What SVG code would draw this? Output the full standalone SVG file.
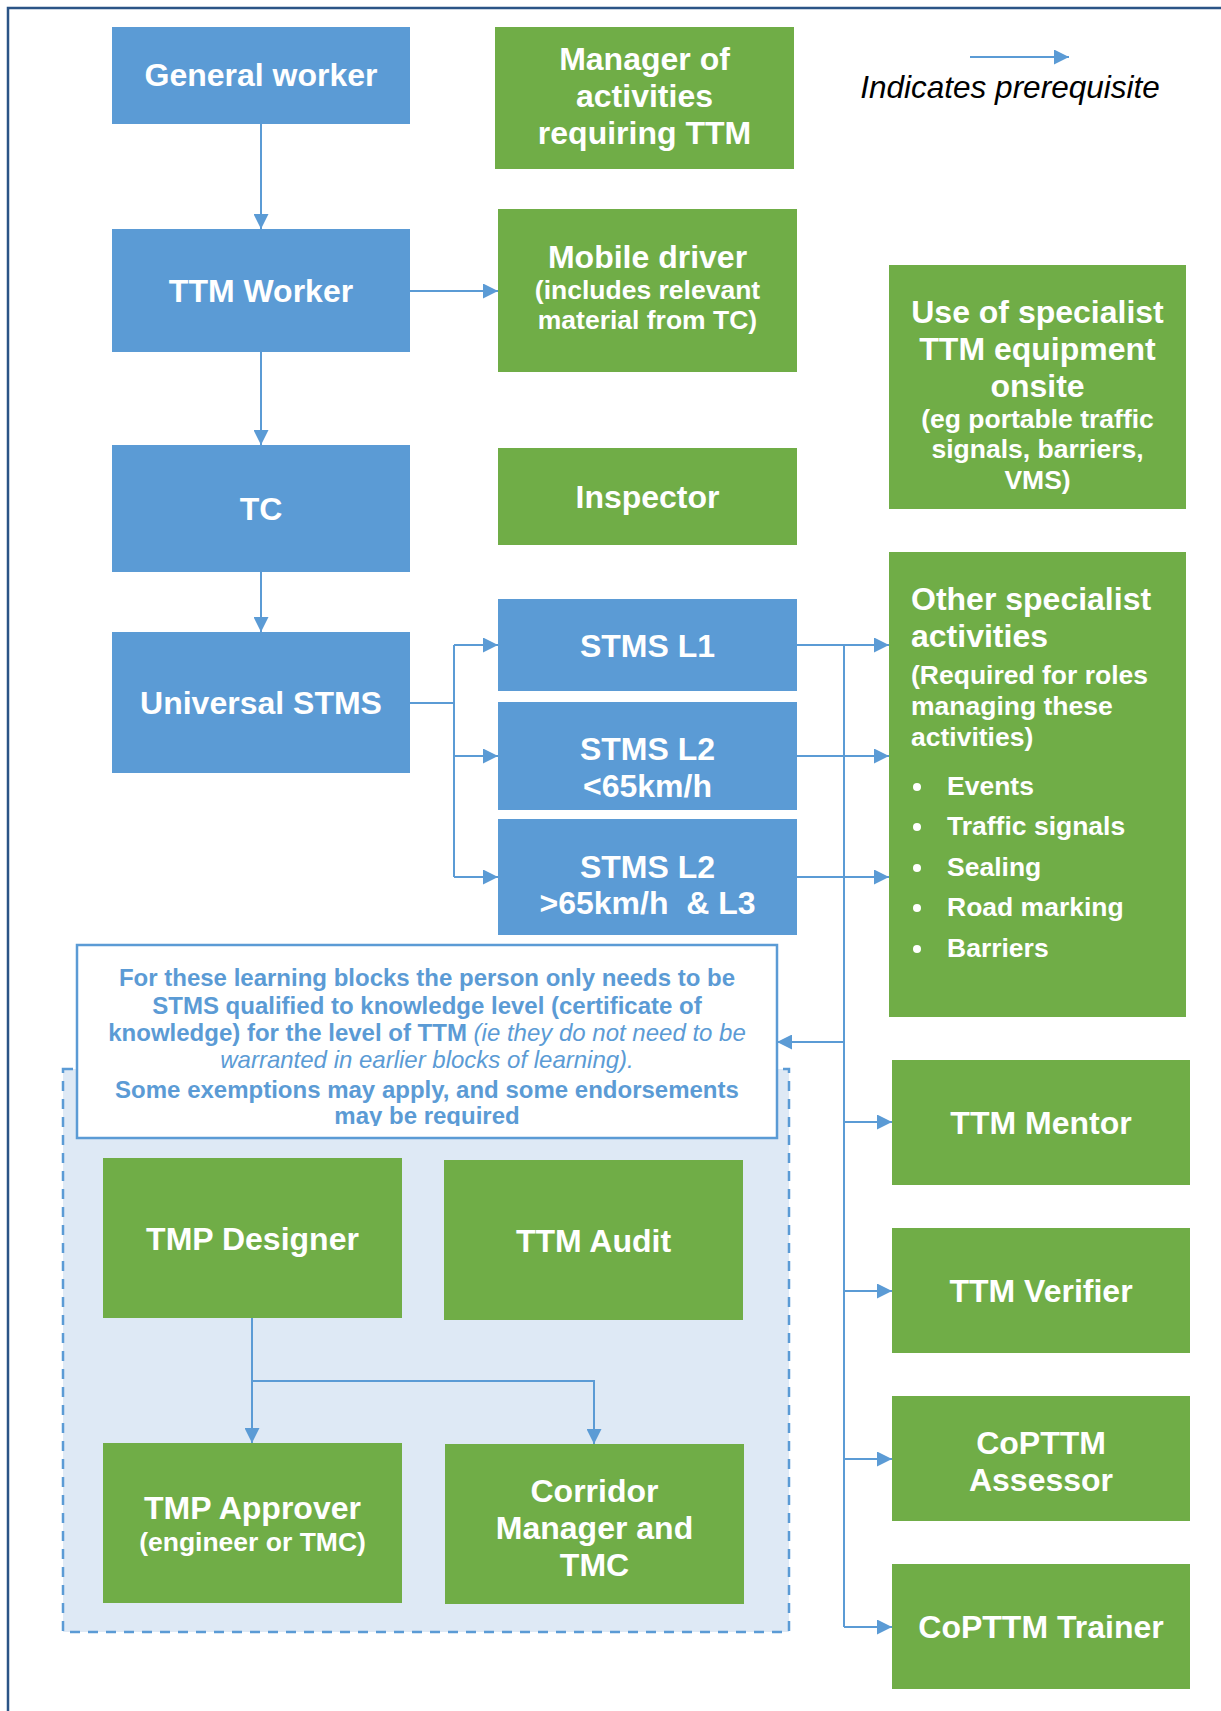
<svg xmlns="http://www.w3.org/2000/svg" width="1221" height="1711" viewBox="0 0 1221 1711">
<style>
.blue{fill:#5B9BD5;}
.green{fill:#70AD47;}
.t{font-family:"Liberation Sans",Arial,sans-serif;font-weight:bold;fill:#fff;text-anchor:middle;}
.b{font-size:32px;}
.s{font-size:26.5px;}
.l{text-anchor:start;}
.c{fill:none;stroke:#5B9BD5;stroke-width:2;}
.note{font-family:"Liberation Sans",Arial,sans-serif;font-size:24px;font-weight:bold;fill:#5B9BD5;text-anchor:middle;}
.it{font-style:italic;font-weight:normal;}
</style>
<defs>
<marker id="ah" markerUnits="userSpaceOnUse" markerWidth="15" markerHeight="15" refX="15" refY="7.5" orient="auto">
<path d="M0,0 L15,7.5 L0,15 z" fill="#5B9BD5"/>
</marker>
<clipPath id="noteclip"><rect x="77" y="945" width="700" height="181"/></clipPath>
</defs>
<rect width="1221" height="1711" fill="#fff"/>
<path d="M8,1711 V8 H1221" fill="none" stroke="#2B5486" stroke-width="2.5"/>

<g id="region">
<rect x="63" y="1069" width="726" height="563" fill="#DEE9F5" stroke="#5B9BD5" stroke-width="2.5" stroke-dasharray="10,8"/>
</g>

<g id="legend">
<text x="1010" y="98" style="font-family:'Liberation Sans',Arial,sans-serif;font-size:31.5px;font-style:italic;fill:#000;text-anchor:middle">Indicates prerequisite</text>
</g>

<g id="general-worker"><rect class="blue" x="112" y="27" width="298" height="97"/><text class="t b" x="261" y="86">General worker</text></g>
<g id="ttm-worker"><rect class="blue" x="112" y="229" width="298" height="123"/><text class="t b" x="261" y="302">TTM Worker</text></g>
<g id="tc"><rect class="blue" x="112" y="445" width="298" height="127"/><text class="t b" x="261" y="520">TC</text></g>
<g id="universal-stms"><rect class="blue" x="112" y="632" width="298" height="141"/><text class="t b" x="261" y="714">Universal STMS</text></g>

<g id="manager"><rect class="green" x="495" y="27" width="299" height="142"/><text class="t b" x="644.5" y="70">Manager of</text><text class="t b" x="644.5" y="107">activities</text><text class="t b" x="644.5" y="144">requiring TTM</text></g>
<g id="mobile-driver"><rect class="green" x="498" y="209" width="299" height="163"/><text class="t b" x="647.5" y="268">Mobile driver</text><text class="t s" x="647.5" y="299">(includes relevant</text><text class="t s" x="647.5" y="329">material from TC)</text></g>
<g id="inspector"><rect class="green" x="498" y="448" width="299" height="97"/><text class="t b" x="647.5" y="508">Inspector</text></g>

<g id="stms-l1"><rect class="blue" x="498" y="599" width="299" height="92"/><text class="t b" x="647.5" y="657">STMS L1</text></g>
<g id="stms-l2-low"><rect class="blue" x="498" y="702" width="299" height="108"/><text class="t b" x="647.5" y="760">STMS L2</text><text class="t b" x="647.5" y="797">&lt;65km/h</text></g>
<g id="stms-l2-high"><rect class="blue" x="498" y="819" width="299" height="116"/><text class="t b" x="647.5" y="878">STMS L2</text><text class="t b" x="647.5" y="914" style="white-space:pre">&gt;65km/h  &amp; L3</text></g>

<g id="specialist-equipment"><rect class="green" x="889" y="265" width="297" height="244"/>
<text class="t b" x="1037.5" y="323">Use of specialist</text>
<text class="t b" x="1037.5" y="360">TTM equipment</text>
<text class="t b" x="1037.5" y="397">onsite</text>
<text class="t s" x="1037.5" y="428">(eg portable traffic</text>
<text class="t s" x="1037.5" y="458">signals, barriers,</text>
<text class="t s" x="1037.5" y="489">VMS)</text></g>

<g id="other-specialist"><rect class="green" x="889" y="552" width="297" height="465"/>
<text class="t b l" x="911" y="610">Other specialist</text>
<text class="t b l" x="911" y="647">activities</text>
<text class="t s l" x="911" y="684">(Required for roles</text>
<text class="t s l" x="911" y="715">managing these</text>
<text class="t s l" x="911" y="746">activities)</text>
<g fill="#fff"><circle cx="917" cy="787" r="4"/><circle cx="917" cy="827" r="4"/><circle cx="917" cy="868" r="4"/><circle cx="917" cy="908" r="4"/><circle cx="917" cy="949" r="4"/></g>
<text class="t s l" x="947" y="795">Events</text>
<text class="t s l" x="947" y="835">Traffic signals</text>
<text class="t s l" x="947" y="876">Sealing</text>
<text class="t s l" x="947" y="916">Road marking</text>
<text class="t s l" x="947" y="957">Barriers</text></g>

<g id="ttm-mentor"><rect class="green" x="892" y="1060" width="298" height="125"/><text class="t b" x="1041" y="1134">TTM Mentor</text></g>
<g id="ttm-verifier"><rect class="green" x="892" y="1228" width="298" height="125"/><text class="t b" x="1041" y="1302">TTM Verifier</text></g>
<g id="copttm-assessor"><rect class="green" x="892" y="1396" width="298" height="125"/><text class="t b" x="1041" y="1454">CoPTTM</text><text class="t b" x="1041" y="1491">Assessor</text></g>
<g id="copttm-trainer"><rect class="green" x="892" y="1564" width="298" height="125"/><text class="t b" x="1041" y="1638">CoPTTM Trainer</text></g>

<g id="note">
<rect x="77" y="945" width="700" height="193" fill="#fff" stroke="#5B9BD5" stroke-width="2.5"/>
<g clip-path="url(#noteclip)">
<text class="note" x="427" y="986">For these learning blocks the person only needs to be</text>
<text class="note" x="427" y="1014">STMS qualified to knowledge level (certificate of</text>
<text class="note" x="427" y="1041">knowledge) for the level of TTM <tspan class="it">(ie they do not need to be</tspan></text>
<text class="note it" x="427" y="1068">warranted in earlier blocks of learning).</text>
<text class="note" x="427" y="1098">Some exemptions may apply, and some endorsements</text>
<text class="note" x="427" y="1124">may be required</text>
</g>
</g>

<g id="tmp-designer"><rect class="green" x="103" y="1158" width="299" height="160"/><text class="t b" x="252.5" y="1250">TMP Designer</text></g>
<g id="ttm-audit"><rect class="green" x="444" y="1160" width="299" height="160"/><text class="t b" x="593.5" y="1252">TTM Audit</text></g>
<g id="tmp-approver"><rect class="green" x="103" y="1443" width="299" height="160"/><text class="t b" x="252.5" y="1519">TMP Approver</text><text class="t s" x="252.5" y="1551">(engineer or TMC)</text></g>
<g id="corridor-manager"><rect class="green" x="445" y="1444" width="299" height="160"/><text class="t b" x="594.5" y="1502">Corridor</text><text class="t b" x="594.5" y="1539">Manager and</text><text class="t b" x="594.5" y="1576">TMC</text></g>

<g id="connectors">
<path class="c" d="M970,57 H1069" marker-end="url(#ah)"/>
<path class="c" d="M261,124 V229" marker-end="url(#ah)"/>
<path class="c" d="M410,291 H498" marker-end="url(#ah)"/>
<path class="c" d="M261,352 V445" marker-end="url(#ah)"/>
<path class="c" d="M261,572 V632" marker-end="url(#ah)"/>
<path class="c" d="M410,703 H454 M454,645 V877"/>
<path class="c" d="M454,645 H498" marker-end="url(#ah)"/>
<path class="c" d="M454,756 H498" marker-end="url(#ah)"/>
<path class="c" d="M454,877 H498" marker-end="url(#ah)"/>
<path class="c" d="M797,645 H889" marker-end="url(#ah)"/>
<path class="c" d="M797,756 H889" marker-end="url(#ah)"/>
<path class="c" d="M797,877 H889" marker-end="url(#ah)"/>
<path class="c" d="M844,645 V1627"/>
<path class="c" d="M844,1042 H777" marker-end="url(#ah)"/>
<path class="c" d="M844,1122 H892" marker-end="url(#ah)"/>
<path class="c" d="M844,1291 H892" marker-end="url(#ah)"/>
<path class="c" d="M844,1459 H892" marker-end="url(#ah)"/>
<path class="c" d="M844,1627 H892" marker-end="url(#ah)"/>
<path class="c" d="M252,1318 V1443" marker-end="url(#ah)"/>
<path class="c" d="M252,1381 H594 V1444" marker-end="url(#ah)"/>
</g>
</svg>
